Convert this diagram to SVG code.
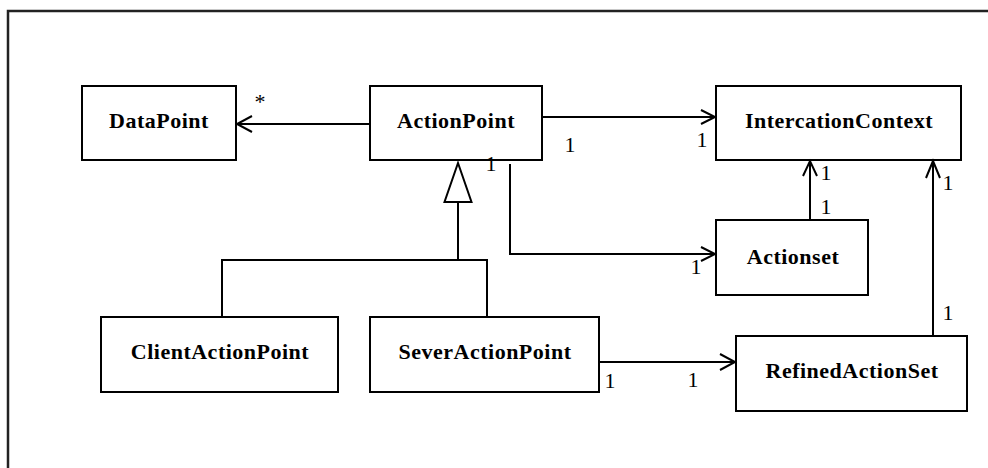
<svg xmlns="http://www.w3.org/2000/svg" width="988" height="468" viewBox="0 0 988 468">
<defs>
<style>
.box{fill:#fff;stroke:#000;stroke-width:2}
.name{font-family:"Liberation Serif","Times New Roman",serif;font-weight:bold;font-size:22px;letter-spacing:0.5px;text-anchor:middle;fill:#000}
.lbl{font-family:"Liberation Serif","Times New Roman",serif;font-size:22px;text-anchor:middle;fill:#000}
.ln{fill:none;stroke:#000;stroke-width:2}
.ah{fill:none;stroke:#000;stroke-width:2}
.gen{fill:#fff;stroke:#000;stroke-width:2}
</style>
</defs>
<rect width="988" height="468" fill="#fff"/>
<path d="M8,468 V11 H988" fill="none" stroke="#222" stroke-width="2.5"/>

<g id="DataPoint"><rect class="box" x="82" y="86" width="154" height="74"/><text class="name" x="159" y="128">DataPoint</text></g>
<g id="ActionPoint"><rect class="box" x="370" y="86" width="172" height="74"/><text class="name" x="456" y="128">ActionPoint</text></g>
<g id="IntercationContext"><rect class="box" x="716" y="86" width="245" height="74"/><text class="name" x="839" y="128">IntercationContext</text></g>
<g id="Actionset"><rect class="box" x="716" y="220" width="152" height="75"/><text class="name" x="793" y="264">Actionset</text></g>
<g id="ClientActionPoint"><rect class="box" x="101" y="317" width="237" height="75"/><text class="name" x="220" y="359">ClientActionPoint</text></g>
<g id="SeverActionPoint"><rect class="box" x="370" y="317" width="229" height="75"/><text class="name" x="485" y="359">SeverActionPoint</text></g>
<g id="RefinedActionSet"><rect class="box" x="736" y="336" width="231" height="75"/><text class="name" x="852" y="378">RefinedActionSet</text></g>

<g id="connectors">
<line class="ln" x1="370" y1="124" x2="237" y2="124"/>
<polyline class="ah" points="252,116 237,124 252,132"/>
<line class="ln" x1="542" y1="117" x2="715" y2="117"/>
<polyline class="ah" points="701,110 715,117 701,124"/>
<polyline class="ln" points="510,164 510,254 715,254"/>
<polyline class="ah" points="701,247 715,254 701,261"/>
<line class="ln" x1="810" y1="220" x2="810" y2="161"/>
<polyline class="ah" points="803,176 810,161 817,176"/>
<line class="ln" x1="933" y1="336" x2="933" y2="161"/>
<polyline class="ah" points="926,178 933,161 940,178"/>
<line class="ln" x1="599" y1="362" x2="735" y2="362"/>
<polyline class="ah" points="720,354 735,362 720,370"/>
<polygon class="gen" points="458,163 444.5,202 471.5,202"/>
<line class="ln" x1="458" y1="202" x2="458" y2="260"/>
<polyline class="ln" points="222,317 222,260 487,260 487,317"/>
</g>

<g id="labels">
<text class="lbl" x="260" y="109">*</text>
<text class="lbl" x="570" y="152">1</text>
<text class="lbl" x="702" y="147">1</text>
<text class="lbl" x="491" y="171">1</text>
<text class="lbl" x="826" y="180">1</text>
<text class="lbl" x="826" y="214">1</text>
<text class="lbl" x="696" y="274">1</text>
<text class="lbl" x="948" y="190">1</text>
<text class="lbl" x="948" y="320">1</text>
<text class="lbl" x="610" y="388">1</text>
<text class="lbl" x="693" y="387">1</text>
</g>
</svg>
